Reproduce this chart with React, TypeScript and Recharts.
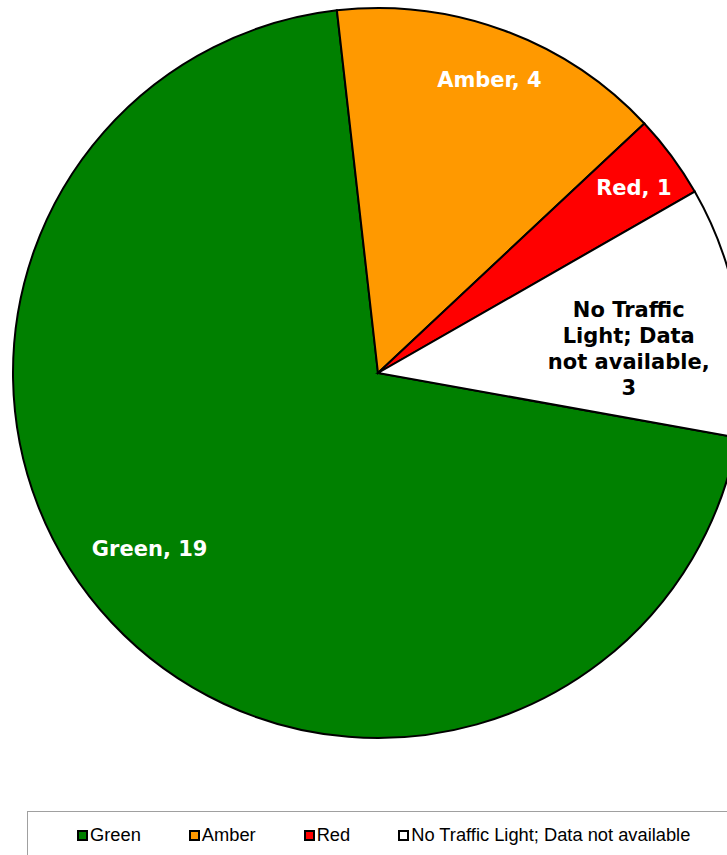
import { PieChart, Pie, Cell, Legend } from 'recharts'

const categories = ['Green', 'Amber', 'Red', 'No Traffic Light; Data not available']
const counts = [19, 4, 1, 3]
const colors = ['#008000', '#FF9900', '#FF0000', '#FFFFFF']
const labelColors = ['#FFFFFF', '#FFFFFF', '#FFFFFF', '#000000']

// label placement tweaks (clockwise shift in degrees, radius fraction)
const labelShift = [5.5, 0.6, 0.6, 4.4]
const labelRadius = [0.79, 0.86, 0.865, 0.69]

const data = categories.map((name, i) => ({ name, value: counts[i] }))

const RAD = Math.PI / 180

function wrap(text: string, max: number): string[] {
  const lines: string[] = []
  let cur = ''
  for (const w of text.split(' ')) {
    if (!cur) cur = w
    else if ((cur + ' ' + w).length <= max) cur += ' ' + w
    else { lines.push(cur); cur = w }
  }
  if (cur) lines.push(cur)
  return lines
}

function SliceLabel(props: any) {
  const { cx, cy, midAngle, outerRadius, index, name, value } = props
  const ang = (midAngle - labelShift[index]) * RAD
  const r = outerRadius * labelRadius[index]
  const x = cx + Math.cos(-ang) * r
  const y = cy + Math.sin(-ang) * r
  const lines = wrap(`${name}, ${value}`, 14)
  const lh = 26
  const y0 = y - ((lines.length - 1) * lh) / 2
  return (
    <text
      x={x} y={y0} textAnchor="middle" dominantBaseline="central"
      fill={labelColors[index]} fontFamily="'DejaVu Sans', Verdana, sans-serif"
      fontWeight="bold" fontSize={21}
    >
      {lines.map((l, i) => (
        <tspan key={i} x={x} y={y0 + i * lh}>{l}</tspan>
      ))}
    </text>
  )
}

// legend keeps the series order, built straight from the arrays
function LegendBox() {
  return (
    <div style={{
      border: '1px solid #a0a0a0', height: 60, boxSizing: 'border-box',
      paddingTop: 14, paddingLeft: 49, display: 'flex', alignItems: 'flex-start',
      fontFamily: "'Liberation Sans', Arial, sans-serif", fontSize: 18.3, lineHeight: '18px', color: '#000',
    }}>
      {categories.map((name, i) => (
        <div key={name} style={{ display: 'flex', alignItems: 'center', marginRight: 48, height: 18 }}>
          <span style={{
            display: 'inline-block', width: 7, height: 7, background: colors[i],
            border: '2px solid #000', marginRight: 2,
          }} />
          <span>{name}</span>
        </div>
      ))}
    </div>
  )
}

export default function App() {
  return (
    <div style={{ position: 'fixed', left: 0, top: 0, width: 727, height: 855, overflow: 'hidden', background: '#fff' }}>
      <PieChart width={727} height={855} margin={{ top: 0, right: 0, bottom: 0, left: 0 }}>
        <Pie
          data={data} dataKey="value" nameKey="name"
          cx={378} cy={373} outerRadius={365}
          startAngle={349.8} endAngle={-10.2}
          stroke="#000" strokeWidth={2}
          label={SliceLabel} labelLine={false}
          isAnimationActive={false}
        >
          {data.map((d, i) => <Cell key={d.name} fill={colors[i]} />)}
        </Pie>
        <Legend
          content={<LegendBox />}
          wrapperStyle={{ position: 'absolute', left: 27, top: 811, width: 720, height: 60 }}
        />
      </PieChart>
    </div>
  )
}
